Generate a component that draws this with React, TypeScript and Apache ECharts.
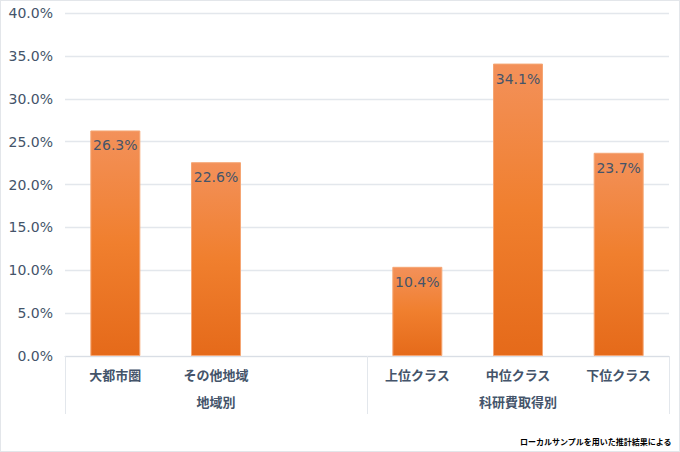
import React from 'react';
import * as echarts from 'echarts';

// 地域別
const regionCats = ['大都市圏', 'その他地域'];
const regionValues = [26.3, 22.6];
// 科研費取得別
const grantCats = ['上位クラス', '中位クラス', '下位クラス'];
const grantValues = [10.4, 34.1, 23.7];
const groupNames = ['地域別', '科研費取得別'];
const yTicks = [0, 5, 10, 15, 20, 25, 30, 35, 40];
const note = 'ローカルサンプルを用いた推計結果による';

const TEXT = '#44546A';
const LINE = '#E3E7EC';

const App = () => {
  const chartRef = React.useRef<HTMLDivElement>(null);

  React.useEffect(() => {
    document.body.style.margin = '0';
    const myChart = echarts.init(chartRef.current, null, { renderer: 'svg' });

    // 2 groups of 3 slots each; empty slot separates the groups
    const cats = [...regionCats, '', ...grantCats];
    const values = [...regionValues, null, ...grantValues];

    myChart.setOption({
      animation: false,
      grid: { left: 64, right: 10, top: 12, bottom: 95 },
      xAxis: [
        {
          type: 'category',
          data: cats,
          axisLine: { lineStyle: { color: '#D9DEE5' } },
          axisTick: { show: false },
          axisLabel: {
            margin: 12,
            color: TEXT,
            fontSize: 13,
            fontWeight: 'bold',
            fontFamily: 'Noto Sans CJK JP',
            interval: 0,
          },
        },
        {
          type: 'category',
          data: groupNames,
          position: 'bottom',
          axisLine: { show: false },
          axisTick: { show: true, length: 58, lineStyle: { color: LINE } },
          axisLabel: {
            margin: 39,
            color: TEXT,
            fontSize: 13,
            fontWeight: 'bold',
            fontFamily: 'Noto Sans CJK JP',
          },
        },
      ],
      yAxis: {
        type: 'value',
        min: yTicks[0],
        max: yTicks[yTicks.length - 1],
        interval: 5,
        axisLine: { show: false },
        axisTick: { show: false },
        splitLine: { lineStyle: { color: LINE, width: 1.3 } },
        axisLabel: {
          margin: 12,
          color: TEXT,
          fontSize: 14,
          fontFamily: 'DejaVu Sans',
          formatter: (v: number) => v.toFixed(1) + '%',
        },
      },
      series: [
        {
          type: 'bar',
          xAxisIndex: 0,
          data: values,
          barWidth: 50,
          itemStyle: {
            color: new echarts.graphic.LinearGradient(0, 0, 0, 1, [
              { offset: 0, color: '#F3915A' },
              { offset: 0.5, color: '#F07F2E' },
              { offset: 1, color: '#E56A1A' },
            ]),
            borderColor: '#F5A674',
            borderWidth: 1,
          },
          label: {
            show: true,
            position: 'insideTop',
            distance: 8,
            color: TEXT,
            fontSize: 14,
            fontFamily: 'DejaVu Sans',
            formatter: (p: any) => p.value.toFixed(1) + '%',
          },
        },
      ],
      graphic: [
        {
          type: 'text',
          right: 7,
          bottom: 6,
          style: {
            text: note,
            fontSize: 8,
            fontWeight: 'bold',
            fontFamily: 'Noto Sans CJK JP',
            fill: '#000',
          },
        },
      ],
    });

    return () => {
      myChart.dispose();
    };
  }, []);

  return (
    <div
      ref={chartRef}
      style={{
        width: '680px',
        height: '452px',
        boxSizing: 'border-box',
        border: '1px solid #E3E6EA',
      }}
    />
  );
};

export default App;
